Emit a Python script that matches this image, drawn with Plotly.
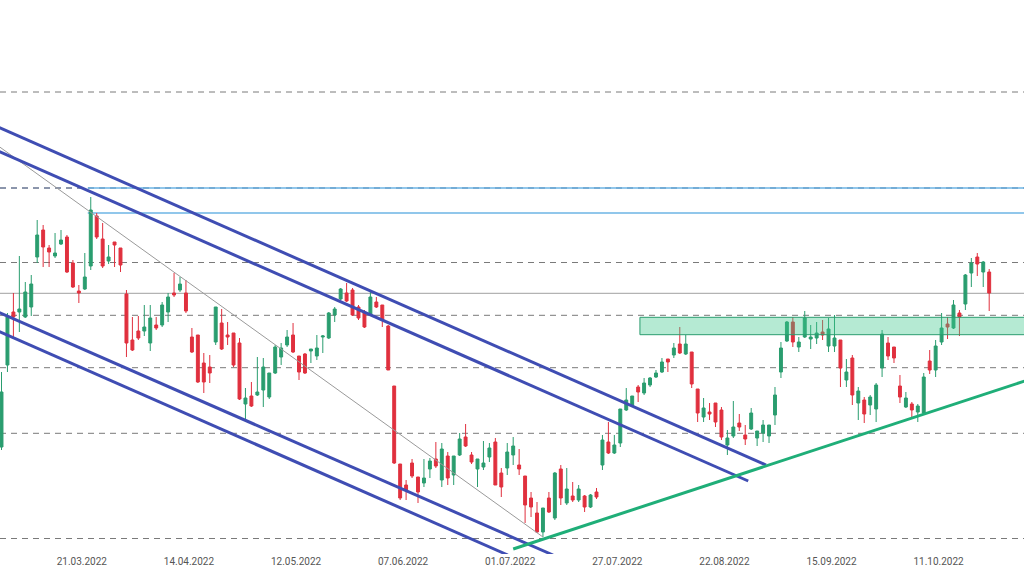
import pandas as pd
import plotly.graph_objects as go

# ---- categories: trading days (Xetra calendar, Good Friday / Easter Monday closed)
dates = pd.bdate_range("2022-03-01", "2022-10-21", freq="C",
                       holidays=["2022-04-15", "2022-04-18"])
categories = [d.strftime("%Y-%m-%d") for d in dates]

open_ = [55.3, 63.5, 68.8, 68.8, 68.3, 69.3, 74.3, 77.0, 75.2, 74.4,
         75.6, 76.3, 73.7, 70.9, 71.1, 73.4, 78.4, 76.1, 73.9, 75.8,
         75.2, 70.6, 66.0, 66.9, 66.9, 65.7, 67.5, 67.5, 68.8, 70.7,
         71.0, 70.7, 66.3, 66.5, 63.7, 63.3, 65.8, 67.7, 66.5, 66.7,
         65.7, 59.6, 60.4, 60.5, 61.0, 60.3, 62.7, 64.3, 65.5, 66.5,
         64.4, 64.6, 64.9, 64.4, 66.3, 66.2, 68.5, 70.1, 70.7, 71.0,
         69.3, 68.8, 68.5, 69.8, 69.5, 67.4, 61.4, 53.6, 51.5, 53.7,
         52.3, 51.7, 53.1, 54.1, 52.0, 54.4, 52.5, 54.5, 56.3, 54.5,
         53.1, 53.3, 54.3, 55.8, 52.7, 53.2, 54.5, 53.5, 52.4, 50.2,
         48.7, 46.8, 50.2, 48.2, 53.1, 49.7, 50.4, 50.0, 50.4, 49.3,
         50.8, 53.5, 55.8, 54.7, 55.7, 59.0, 59.4, 61.3, 60.7, 61.5,
         62.3, 62.8, 64.1, 64.5, 65.6, 64.6, 64.8, 61.1, 58.3, 58.8,
         59.7, 59.0, 55.5, 56.4, 57.7, 56.5, 57.1, 56.2, 56.7, 56.4,
         58.5, 62.8, 65.9, 67.8, 65.3, 66.3, 66.1, 66.2, 66.8, 65.4,
         65.4, 66.0, 62.0, 64.2, 59.7, 60.0, 59.5, 59.1, 63.2, 65.7,
         65.3, 61.4, 59.3, 59.6, 58.8, 58.7, 63.9, 63.0, 65.8, 67.6,
         67.2, 68.7, 69.6, 72.7, 74.3, 72.8, 72.8]
high = [62.8, 68.7, 70.7, 74.4, 71.8, 72.5, 78.0, 77.5, 75.5, 76.7,
        77.0, 76.5, 74.0, 71.5, 74.7, 80.3, 78.7, 77.7, 75.5, 75.8,
        75.2, 71.0, 68.3, 68.4, 69.5, 69.5, 68.3, 69.8, 70.7, 72.7,
        72.3, 72.0, 67.2, 66.5, 64.7, 64.5, 69.3, 69.1, 67.8, 66.7,
        66.2, 61.2, 61.8, 64.3, 64.2, 62.7, 65.5, 65.7, 67.0, 67.7,
        64.4, 64.7, 65.1, 66.5, 66.5, 68.8, 69.3, 71.2, 71.7, 71.2,
        69.5, 69.0, 71.0, 70.3, 69.5, 67.5, 61.4, 53.6, 52.0, 54.1,
        52.3, 54.1, 54.2, 55.8, 55.7, 54.8, 54.4, 56.7, 57.6, 54.8,
        54.1, 55.9, 55.7, 56.2, 53.2, 55.7, 56.3, 55.1, 52.4, 50.8,
        49.8, 49.2, 50.8, 52.8, 53.5, 53.2, 51.8, 51.5, 50.5, 50.6,
        51.2, 56.5, 57.8, 56.5, 59.1, 61.2, 60.4, 61.5, 62.2, 62.3,
        63.0, 64.2, 64.1, 65.7, 67.3, 66.5, 64.8, 61.1, 60.2, 59.7,
        59.7, 59.3, 57.0, 59.9, 58.6, 57.5, 59.2, 56.9, 58.0, 57.5,
        61.3, 65.8, 67.9, 68.3, 66.3, 68.9, 67.5, 67.8, 68.0, 68.2,
        68.5, 66.0, 64.1, 64.5, 61.3, 60.3, 60.5, 61.7, 67.0, 66.3,
        65.3, 62.5, 60.8, 59.8, 59.6, 62.7, 65.0, 66.0, 68.7, 68.3,
        70.0, 69.0, 72.6, 74.2, 74.7, 73.9, 73.1]
low = [55.0, 62.8, 66.3, 66.8, 68.2, 68.4, 73.7, 73.3, 73.3, 74.2,
       75.5, 72.7, 71.2, 69.7, 71.0, 73.0, 76.1, 73.2, 73.6, 73.3,
       72.8, 64.3, 64.9, 66.0, 66.4, 64.9, 67.0, 67.3, 67.8, 70.3,
       70.8, 68.7, 64.7, 61.7, 60.7, 61.7, 65.5, 65.0, 65.5, 63.3,
       60.0, 58.0, 59.3, 60.4, 59.3, 60.1, 62.6, 63.5, 65.3, 64.7,
       62.0, 62.6, 63.7, 64.0, 64.7, 66.1, 67.8, 70.0, 69.8, 68.4,
       68.0, 67.2, 68.4, 69.2, 67.3, 63.0, 53.6, 50.0, 50.0, 52.2,
       49.7, 51.3, 52.2, 53.2, 51.3, 51.5, 51.5, 54.4, 55.3, 53.6,
       51.3, 53.0, 53.8, 51.5, 50.3, 52.5, 53.5, 52.5, 47.7, 48.3,
       46.7, 46.3, 48.7, 48.0, 49.5, 49.5, 49.8, 49.8, 48.8, 49.2,
       50.1, 53.0, 54.6, 54.6, 55.3, 58.9, 59.3, 59.8, 60.5, 61.3,
       62.2, 62.7, 62.8, 64.2, 64.6, 64.5, 61.2, 57.8, 57.8, 58.0,
       57.3, 56.0, 54.5, 56.2, 56.9, 55.5, 57.0, 55.4, 55.8, 55.7,
       57.5, 62.2, 65.8, 65.3, 64.8, 66.2, 65.1, 65.6, 66.0, 64.8,
       64.8, 61.3, 61.3, 59.5, 58.0, 57.7, 58.5, 57.8, 62.3, 64.0,
       63.7, 59.7, 59.2, 58.3, 57.8, 58.6, 62.6, 62.3, 65.5, 66.1,
       67.1, 66.4, 69.0, 71.3, 72.4, 71.3, 68.9]
close = [60.8, 68.3, 68.3, 69.1, 70.8, 71.6, 76.5, 75.3, 74.8, 74.7,
         76.0, 72.8, 71.3, 70.7, 72.3, 79.0, 76.3, 73.4, 74.3, 75.5,
         73.5, 65.7, 65.0, 66.2, 67.3, 68.2, 67.2, 69.5, 70.3, 70.5,
         71.6, 68.9, 64.8, 61.8, 61.8, 62.7, 69.3, 65.1, 66.3, 63.5,
         60.1, 60.2, 59.4, 60.8, 63.3, 62.7, 65.3, 65.2, 66.3, 64.8,
         62.8, 62.7, 65.1, 65.2, 66.4, 68.7, 69.1, 71.1, 69.9, 68.5,
         68.2, 67.3, 70.3, 69.3, 68.0, 63.0, 53.7, 50.2, 51.0, 52.4,
         50.8, 52.2, 53.9, 53.4, 55.1, 52.2, 54.4, 56.1, 55.4, 53.8,
         54.1, 53.7, 55.2, 51.5, 51.3, 54.8, 55.4, 53.1, 49.5, 49.3,
         46.8, 49.2, 48.8, 52.7, 50.2, 51.1, 50.0, 51.1, 49.3, 50.5,
         50.3, 56.0, 54.7, 55.5, 59.1, 60.0, 60.4, 60.8, 61.7, 62.2,
         62.7, 63.8, 63.8, 65.2, 64.7, 65.6, 61.6, 58.7, 59.2, 58.6,
         57.8, 56.3, 56.2, 57.3, 57.3, 56.1, 58.7, 56.9, 57.5, 57.5,
         60.5, 65.2, 67.8, 65.8, 65.8, 68.2, 66.3, 66.7, 66.5, 67.1,
         66.2, 63.2, 62.8, 60.5, 60.9, 58.6, 60.3, 61.5, 66.6, 64.4,
         64.2, 60.3, 60.2, 59.0, 59.4, 62.3, 63.0, 65.4, 67.2, 67.3,
         69.5, 68.3, 72.5, 73.7, 73.6, 73.8, 70.7]

# ---- chart annotations (bar index, price)
dashed_levels = [90.8, 81.2, 73.75, 68.47, 63.23, 56.67, 46.15]
solid_level = 70.67
resistance_levels = [81.2, 78.7]
resistance_start = 14.5
channel_lines = [  # (x0, y0, x1, y1)
    (-1, 87.4, 128.5, 53.5),
    (-1, 85.0, 125.5, 51.9),
    (-1, 68.9, 92.7, 44.5),
    (-1, 67.0, 85.1, 44.5),
]
thin_trend = (-1, 85.6, 91.0, 46.3)
support_trend = (86.0, 45.1, 173.0, 62.1)
zone = (107.3, 66.53, 175.0, 68.27)
tick_every = 18
tick_first = 14

tick_idx = list(range(tick_first, len(categories), tick_every))
tickvals = [categories[i] for i in tick_idx]
ticktext = [dates[i].strftime("%d.%m.%Y") for i in tick_idx]

fig = go.Figure(go.Candlestick(
    x=categories, open=open_, high=high, low=low, close=close,
    increasing=dict(line=dict(color="#2a9d6f", width=1), fillcolor="#2a9d6f"),
    decreasing=dict(line=dict(color="#e0303e", width=1), fillcolor="#e0303e"),
    showlegend=False,
))

shapes = []
for lv in dashed_levels:
    shapes.append(dict(type="line", xref="paper", x0=0, x1=1, yref="y", y0=lv, y1=lv,
                       line=dict(color="#7a7a7a", width=1, dash="6px,5px"), layer="below"))
shapes.append(dict(type="line", xref="paper", x0=0, x1=1, yref="y", y0=solid_level, y1=solid_level,
                   line=dict(color="#a0a0a0", width=1), layer="below"))
for lv in resistance_levels:
    shapes.append(dict(type="line", xref="x", x0=resistance_start, x1=175, yref="y", y0=lv, y1=lv,
                       line=dict(color="#6cb4e4", width=1.5), layer="below"))
# redraw dashed over the top resistance line
shapes.append(dict(type="line", xref="paper", x0=0, x1=1, yref="y", y0=dashed_levels[1], y1=dashed_levels[1],
                   line=dict(color="#5a6f9a", width=1, dash="6px,5px"), layer="below"))
x0, y0, x1, y1 = thin_trend
shapes.append(dict(type="line", xref="x", yref="y", x0=x0, y0=y0, x1=x1, y1=y1,
                   line=dict(color="#9a9a9a", width=1), layer="above"))
for (x0, y0, x1, y1) in channel_lines:
    shapes.append(dict(type="line", xref="x", yref="y", x0=x0, y0=y0, x1=x1, y1=y1,
                       line=dict(color="#3f4db3", width=3), layer="above"))
x0, y0, x1, y1 = support_trend
shapes.append(dict(type="line", xref="x", yref="y", x0=x0, y0=y0, x1=x1, y1=y1,
                   line=dict(color="#1fae78", width=3), layer="above"))
x0, y0, x1, y1 = zone
shapes.append(dict(type="rect", xref="x", yref="y", x0=x0, y0=y0, x1=x1, y1=y1,
                   fillcolor="rgba(60,200,140,0.38)", line=dict(color="#2a9d6f", width=1),
                   layer="above"))

fig.update_layout(
    width=1024, height=576,
    margin=dict(l=0, r=0, t=0, b=22),
    paper_bgcolor="white", plot_bgcolor="white",
    shapes=shapes,
    xaxis=dict(type="category", range=[-0.252, 171.85], rangeslider=dict(visible=False),
               tickmode="array", tickvals=tickvals, ticktext=ticktext,
               showgrid=False, zeroline=False, showline=False, ticks="",
               tickfont=dict(family="Roboto", size=10, color="#555555"),
               ticklabelshift=-3),
    yaxis=dict(range=[44.6, 100], showgrid=False, zeroline=False, showline=False,
               showticklabels=False, ticks=""),
)

fig.write_html("out.html",
               config={"displayModeBar": False},
               post_script="document.body.style.margin='0px';document.body.style.overflow='hidden';")
